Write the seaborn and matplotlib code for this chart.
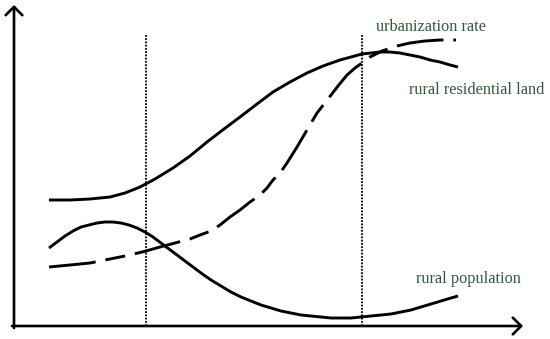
import matplotlib
matplotlib.use("Agg")
import matplotlib.pyplot as plt
import seaborn as sns
import pandas as pd

# --- data (conceptual curve levels) ---
res_x = [35, 56, 76, 96, 111, 126, 141, 159, 176, 193, 210, 226, 243, 259, 276, 293, 309, 326, 337, 348,
         357, 366, 376, 386, 396, 406, 416, 426, 436, 444]
res_y = [126, 126, 127, 129, 133, 139, 147, 158, 170, 184, 197, 209, 222, 234, 244, 253, 260, 266, 269, 272,
         273, 274, 274, 273, 271, 269, 266, 264, 261, 259]

urb_x = [35, 56, 76, 96, 116, 132, 146, 161, 176, 186, 197, 206, 216, 226, 236, 246, 253, 259, 266, 273,
         283, 293, 303, 314, 324, 333, 341, 348, 356, 368, 383, 396, 411, 426, 442]
urb_y = [59, 61, 63, 67, 71, 75, 79, 83, 87, 91, 95, 101, 109, 116, 124, 131, 138, 146, 153, 163,
         179, 196, 213, 227, 240, 251, 258, 263, 269, 275, 280, 283, 285, 286, 286]

pop_x = [35, 43, 51, 59, 67, 75, 83, 91, 99, 107, 115, 123, 131, 139, 147, 155, 163, 171, 179, 187,
         197, 207, 217, 227, 237, 247, 257, 267, 277, 287, 297, 307, 317, 327, 337, 347, 357, 367,
         377, 387, 397, 407, 417, 427, 437, 444]
pop_y = [78, 84, 90, 95, 99, 101, 103, 104, 104, 103, 101, 98, 94, 89, 83, 77, 71, 65, 59, 53,
         46, 40, 34, 29, 25, 21, 18, 15, 13, 11, 10, 9, 8, 8, 8, 9, 10, 11,
         12, 14, 16, 19, 22, 25, 28, 30]

stage_x = [132, 348]
stage_top = 291

labels = ["urbanization rate", "rural residential land", "rural population"]
label_pos = [(362, 299), (395, 236), (402, 47)]

sns.set_style("white")
plt.rcParams['font.family'] = ['Liberation Serif', 'DejaVu Serif']

fig = plt.figure(figsize=(5.5, 3.39), dpi=100)
ax = fig.add_axes([0, 0, 1, 1])

df_res = pd.DataFrame({"x": res_x, "y": res_y})
df_urb = pd.DataFrame({"x": urb_x, "y": urb_y})
df_pop = pd.DataFrame({"x": pop_x, "y": pop_y})

lw = 2.1
sns.lineplot(data=df_res, x="x", y="y", ax=ax, color="black", lw=lw, sort=False,
             solid_capstyle="butt", solid_joinstyle="round")
sns.lineplot(data=df_pop, x="x", y="y", ax=ax, color="black", lw=lw, sort=False,
             solid_capstyle="butt", solid_joinstyle="round")
sns.lineplot(data=df_urb, x="x", y="y", ax=ax, color="black", lw=lw, sort=False)
ax.lines[-1].set_dashes((16.1, 3.4, 6.9, 3.4))
ax.lines[-1].set_dash_capstyle("butt")
ax.lines[-1].set_dash_joinstyle("round")

for sx in stage_x:
    ax.plot([sx, sx], [0, stage_top], color="black", lw=1.3, linestyle=(0, (1.0, 0.8)))

# axes arrows
ap = dict(arrowstyle="->,head_length=0.6,head_width=0.6", lw=1.9, color="black",
          shrinkA=0, shrinkB=0, mutation_scale=10)
ax.annotate("", xy=(0, 321), xytext=(0, -2), arrowprops=ap)
ax.annotate("", xy=(509, 0), xytext=(-2, 0), arrowprops=ap)

for t, (tx, ty) in zip(labels, label_pos):
    ax.text(tx, ty, t, color="#2e5b3a", fontsize=11.7, ha="left", va="center")

ax.set_xlim(-14, 536)
ax.set_ylim(-13, 326)
ax.axis("off")

fig.savefig("out.png", dpi=100)
